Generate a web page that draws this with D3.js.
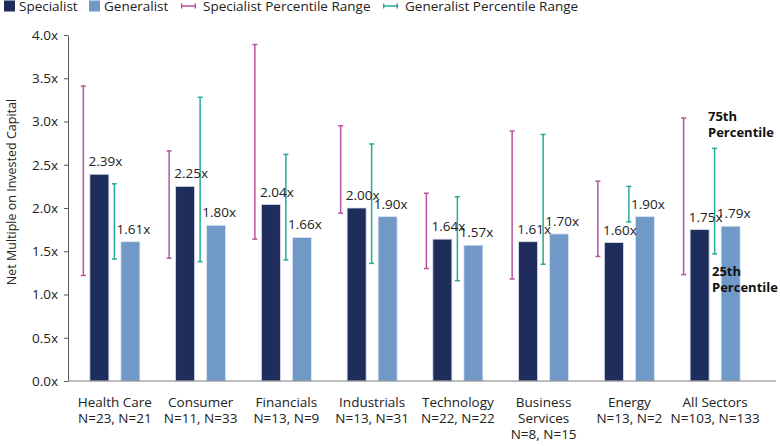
<!DOCTYPE html>
<html>
<head>
<meta charset="utf-8">
<script src="https://cdn.jsdelivr.net/npm/d3@7"></script>
<style>
  body { margin: 0; background: #fff; }
  svg text { font-family: "Open Sans", "Noto Sans", sans-serif; }
</style>
</head>
<body>
<div id="chart"></div>
<script>
var categories = [["Health Care", "N=23, N=21"], ["Consumer", "N=11, N=33"], ["Financials", "N=13, N=9"],
  ["Industrials", "N=13, N=31"], ["Technology", "N=22, N=22"], ["Business", "Services", "N=8, N=15"],
  ["Energy", "N=13, N=2"], ["All Sectors", "N=103, N=133"]];
var specialist = [2.39, 2.25, 2.04, 2.00, 1.64, 1.61, 1.60, 1.75];
var generalist = [1.61, 1.80, 1.66, 1.90, 1.57, 1.70, 1.90, 1.79];
var specLow = [1.22, 1.42, 1.64, 1.94, 1.30, 1.18, 1.44, 1.23];
var specHigh = [3.41, 2.66, 3.89, 2.95, 2.17, 2.89, 2.31, 3.04];
var genLow = [1.41, 1.38, 1.40, 1.36, 1.16, 1.35, 1.84, 1.47];
var genHigh = [2.28, 3.28, 2.62, 2.74, 2.13, 2.85, 2.25, 2.69];
var yTicks = [0, 0.5, 1, 1.5, 2, 2.5, 3, 3.5, 4];

var width = 780, height = 446, fs = 13.5;
var colSpec = "#1f2d5c", colGen = "#7199c7", colSpecErr = "#b9529f", colGenErr = "#27a898";

var svg = d3.select("#chart").append("svg").attr("width", width).attr("height", height);

var x = d3.scaleBand().domain(d3.range(categories.length)).range([72, 758]);
var y = d3.scaleLinear().domain([0, 4]).range([381, 35]);
var barW = 19, barOff = 15.5, errOff = -16;

// y axis
var yAxis = svg.append("g").attr("transform", "translate(68,0)")
  .call(d3.axisLeft(y).tickValues(yTicks).tickSize(4).tickSizeOuter(0).tickFormat(function(d) {
    return d3.format(".1f")(d) + "x";
  }));
yAxis.select(".domain").attr("stroke", "#595959");
yAxis.selectAll(".tick line").attr("stroke", "#595959");
yAxis.selectAll(".tick text").attr("font-size", fs).attr("fill", "#222").attr("x", -10);

svg.append("text").attr("transform", "translate(16,192) rotate(-90)").attr("text-anchor", "middle")
  .attr("font-size", 12.5).attr("fill", "#222").text("Net Multiple on Invested Capital");

// bars
var g = svg.selectAll("g.grp").data(categories).enter().append("g").attr("class", "grp")
  .attr("transform", function(d, i) { return "translate(" + (x(i) + x.bandwidth() / 2) + ",0)"; });

g.append("rect").attr("x", -barOff - barW / 2).attr("width", barW)
  .attr("y", function(d, i) { return y(specialist[i]); })
  .attr("height", function(d, i) { return y(0) - y(specialist[i]); })
  .attr("fill", colSpec).attr("stroke", "#d6dcea").attr("stroke-width", 0.8);
g.append("rect").attr("x", barOff - barW / 2).attr("width", barW)
  .attr("y", function(d, i) { return y(generalist[i]); })
  .attr("height", function(d, i) { return y(0) - y(generalist[i]); })
  .attr("fill", colGen).attr("stroke", "#dce6f2").attr("stroke-width", 0.8);

// x axis line
svg.append("line").attr("x1", 68).attr("x2", 776).attr("y1", y(0)).attr("y2", y(0))
  .attr("stroke", "#7f7f7f").attr("stroke-width", 1.2);

// error bars
function errBar(sel, dx, lo, hi, col) {
  sel.append("line").attr("x1", dx).attr("x2", dx)
    .attr("y1", function(d, i) { return y(lo[i]); }).attr("y2", function(d, i) { return y(hi[i]); })
    .attr("stroke", col).attr("stroke-width", 1.5);
  [lo, hi].forEach(function(arr) {
    sel.append("line").attr("x1", dx - 2.5).attr("x2", dx + 2.5)
      .attr("y1", function(d, i) { return y(arr[i]); }).attr("y2", function(d, i) { return y(arr[i]); })
      .attr("stroke", col).attr("stroke-width", 1.5);
  });
}
errBar(g, -barOff + errOff, specLow, specHigh, colSpecErr);
errBar(g, barOff + errOff, genLow, genHigh, colGenErr);

// value labels
g.append("text").attr("x", -barOff + 6).attr("y", function(d, i) { return y(specialist[i]) - 8; })
  .attr("text-anchor", "middle").attr("font-size", fs).attr("fill", "#222")
  .text(function(d, i) { return specialist[i].toFixed(2) + "x"; });
g.append("text").attr("x", barOff + 3).attr("y", function(d, i) { return y(generalist[i]) - 8; })
  .attr("text-anchor", "middle").attr("font-size", fs).attr("fill", "#222")
  .text(function(d, i) { return generalist[i].toFixed(2) + "x"; });

// category labels
g.append("text").attr("text-anchor", "middle").attr("font-size", fs).attr("fill", "#222")
  .selectAll("tspan").data(function(d) { return d; }).enter().append("tspan")
  .attr("x", 0).attr("y", function(d, i) { return 407 + i * 16; }).text(function(d) { return d; });

// annotations
svg.append("text").attr("font-size", 13).attr("font-weight", "bold").attr("fill", "#111")
  .selectAll("tspan").data(["75th", "Percentile"]).enter().append("tspan")
  .attr("x", 708).attr("y", function(d, i) { return 121 + i * 16; }).text(function(d) { return d; });
svg.append("text").attr("font-size", 13).attr("font-weight", "bold").attr("fill", "#111")
  .selectAll("tspan").data(["25th", "Percentile"]).enter().append("tspan")
  .attr("x", 712).attr("y", function(d, i) { return 276 + i * 16; }).text(function(d) { return d; });

// legend
var legend = [
  { label: "Specialist", type: "box", color: colSpec, x: 4 },
  { label: "Generalist", type: "box", color: colGen, x: 89 },
  { label: "Specialist Percentile Range", type: "err", color: colSpecErr, x: 181 },
  { label: "Generalist Percentile Range", type: "err", color: colGenErr, x: 383 }
];
var lg = svg.selectAll("g.leg").data(legend).enter().append("g").attr("class", "leg")
  .attr("transform", function(d) { return "translate(" + d.x + ",6)"; });
lg.filter(function(d) { return d.type === "box"; }).append("rect")
  .attr("x", 0).attr("y", -5.5).attr("width", 11).attr("height", 11).attr("fill", function(d) { return d.color; });
lg.filter(function(d) { return d.type === "err"; }).each(function(d) {
  var s = d3.select(this);
  s.append("line").attr("x1", 0).attr("x2", 15).attr("y1", 0).attr("y2", 0).attr("stroke", d.color).attr("stroke-width", 1.5);
  s.append("line").attr("x1", 0.7).attr("x2", 0.7).attr("y1", -2.5).attr("y2", 2.5).attr("stroke", d.color).attr("stroke-width", 1.5);
  s.append("line").attr("x1", 14.3).attr("x2", 14.3).attr("y1", -2.5).attr("y2", 2.5).attr("stroke", d.color).attr("stroke-width", 1.5);
});
lg.append("text").attr("x", function(d) { return d.type === "box" ? 15 : 22; }).attr("y", 5)
  .attr("font-size", fs).attr("fill", "#222").text(function(d) { return d.label; });
</script>
</body>
</html>
